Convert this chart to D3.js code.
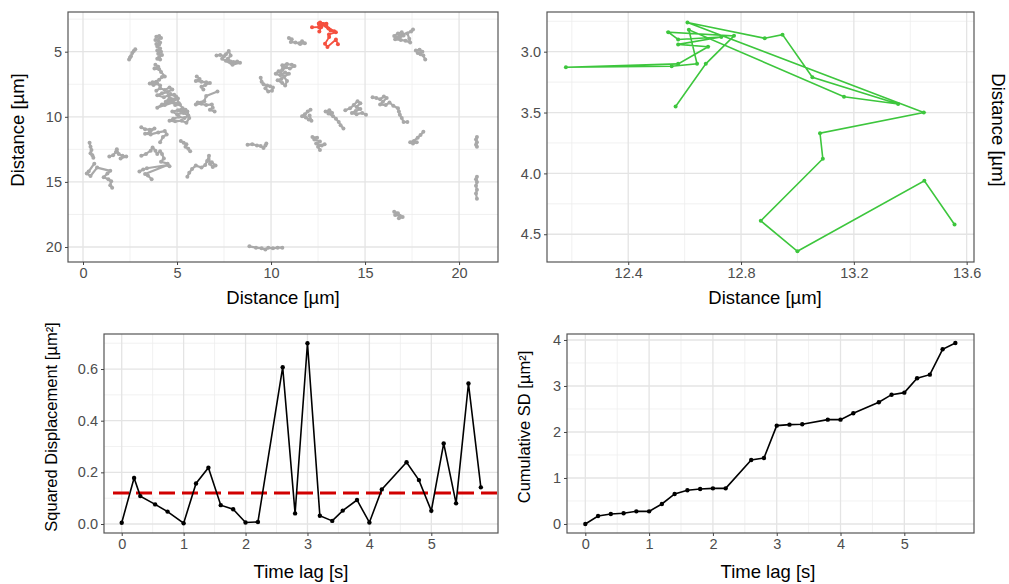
<!DOCTYPE html>
<html>
<head>
<meta charset="utf-8">
<script src="https://cdn.jsdelivr.net/npm/d3@7"></script>
<style>
body { margin: 0; background: #fff; }
text { font-family: "Liberation Sans", Arial, sans-serif; }
.tick text { fill: #4d4d4d; font-size: 14.5px; }
.tick line { stroke: #444; }
.domain { display: none; }
.border { fill: none; stroke: #555; stroke-width: 1.2; }
.gmajor { stroke: #e4e4e4; stroke-width: 1.3; }
.gminor { stroke: #eeeeee; stroke-width: 0.8; }
.title { fill: #000; font-size: 18.5px; }
.ytitle { fill: #000; font-size: 16.5px; }
</style>
</head>
<body>
<div id="chart"></div>
<script>
// grey tracks, one list of [x, y] per particle (µm)
var greyTracks = [
  [[2.45,5.6],[2.5,5.45],[2.55,5.35],[2.62,5.1],[2.7,4.95],[2.78,4.82]],
  [[3.9,3.85],[4.05,3.8],[4.15,3.95],[3.85,4.1],[4.0,4.15],[4.1,4.3],[3.9,4.4],[4.05,4.45],[3.95,4.6],[4.1,4.75],[3.95,4.9],[4.15,5.0],[4.0,5.15],[4.2,5.25],[4.05,5.4],[3.95,5.55],[4.1,5.6]],
  [[3.85,6.0],[4.0,6.15],[3.8,6.3],[4.05,6.35],[4.15,6.55],[4.35,6.9],[4.2,6.95],[4.05,7.15],[3.9,7.3],[3.7,7.35],[3.55,7.45],[3.75,7.55],[3.95,7.45],[4.1,7.6]],
  [[3.9,8.0],[4.1,7.8],[4.35,7.95],[4.6,7.75],[4.75,7.9],[4.5,8.1],[4.2,8.2],[3.95,8.35],[4.3,8.5],[4.55,8.35],[4.85,8.3],[5.05,8.6],[4.7,8.7],[4.4,8.85],[4.6,8.55],[4.9,8.65],[4.2,9.05],[3.95,9.3],[4.35,9.1],[4.8,8.9],[5.1,8.95],[4.95,8.45],[4.65,8.25]],
  [[4.9,9.1],[5.15,9.05],[5.3,9.35],[5.05,9.5],[4.75,9.6],[5.0,9.8],[5.35,9.7],[5.6,9.9],[5.4,10.1],[5.1,10.0],[4.8,10.15],[4.6,10.3],[4.9,10.35],[5.25,10.3],[5.5,10.45],[5.65,10.1],[5.55,9.6],[5.2,9.55],[5.45,9.45]],
  [[6.05,6.9],[6.2,7.1],[6.0,7.25],[6.3,7.3],[6.55,7.35],[6.75,7.4],[6.5,7.55],[6.3,7.7],[6.4,7.9]],
  [[7.15,8.05],[6.55,8.4],[6.45,8.8],[6.1,8.9],[6.0,9.05],[6.3,9.0],[6.55,9.1],[6.85,9.05],[6.9,9.3],[6.75,9.45],[7.0,9.6]],
  [[7.1,5.3],[7.3,5.25],[7.5,5.35],[7.6,5.2],[7.75,4.95],[7.85,5.3],[7.7,5.55],[7.85,5.75],[8.0,5.8],[8.2,5.75],[8.35,5.85],[7.95,6.0],[7.6,5.7],[7.4,5.55]],
  [[9.45,7.0],[9.5,7.3],[9.6,7.5],[9.8,7.6],[9.7,7.8],[9.85,8.05],[10.05,8.0],[10.1,7.75],[9.95,7.65]],
  [[10.6,6.05],[10.85,5.95],[11.1,6.0],[11.25,6.1],[11.0,6.3],[10.8,6.2],[10.6,6.4],[10.4,6.5],[10.25,6.7],[10.5,6.8],[10.75,6.6],[10.95,6.7],[10.7,6.9],[10.55,7.1],[10.35,7.2],[10.6,7.4],[10.75,7.6],[10.85,7.25],[10.5,6.55],[10.65,6.2]],
  [[10.95,3.95],[11.1,4.05],[11.05,4.25],[11.3,4.3],[11.5,4.35],[11.65,4.2],[11.8,4.35],[11.55,4.4]],
  [[16.55,3.8],[16.75,3.6],[16.95,3.5],[17.05,3.75],[16.8,3.95],[16.6,4.05],[16.9,4.1],[17.15,4.15],[17.4,4.3],[17.35,4.0],[17.25,3.6],[17.55,3.3],[17.45,3.45],[16.85,3.75],[16.65,3.9]],
  [[17.7,4.9],[17.9,4.85],[18.05,5.0],[17.8,5.1],[17.95,5.2],[18.1,5.3],[18.2,5.6]],
  [[12.1,9.45],[11.95,9.6],[11.8,9.8],[11.65,9.95],[11.85,10.05],[12.0,10.2],[12.15,10.3],[12.05,9.9]],
  [[12.9,9.6],[13.1,9.5],[13.25,9.7],[13.05,9.75],[13.3,9.95],[13.45,10.15],[13.6,10.4],[13.7,10.65],[13.85,10.9]],
  [[13.95,9.5],[14.2,9.35],[14.4,9.1],[14.6,8.8],[14.75,8.95],[14.55,9.25],[14.75,9.4],[14.5,9.55],[14.3,9.7],[14.55,9.8],[14.85,9.7],[15.05,9.85]],
  [[15.4,8.5],[15.6,8.55],[15.8,8.65],[16.0,8.45],[16.15,8.55],[15.95,8.85],[15.8,9.05],[16.1,9.1],[16.3,8.9],[16.5,9.15],[16.75,9.35],[16.8,9.6],[16.85,9.85],[16.95,10.1],[17.05,10.4],[17.25,10.4]],
  [[18.1,11.15],[17.95,11.4],[17.8,11.6],[17.6,11.85],[17.4,11.95],[17.55,12.05],[17.75,11.95]],
  [[20.95,11.55],[20.9,11.75],[20.95,11.95],[20.9,12.15],[20.95,12.3]],
  [[20.95,14.6],[20.9,14.8],[20.95,15.0],[20.9,15.3],[20.95,15.6],[20.9,15.9],[20.95,16.3]],
  [[16.55,17.3],[16.75,17.4],[16.6,17.55],[16.85,17.6],[17.0,17.7],[16.8,17.8]],
  [[8.85,19.95],[9.2,20.05],[9.5,20.1],[9.7,20.2],[9.85,20.05],[10.1,20.1],[10.35,20.05],[10.6,20.05]],
  [[8.75,12.15],[9.0,12.1],[9.25,12.2],[9.45,12.25],[9.6,12.4],[9.7,12.2],[9.75,12.05]],
  [[12.2,11.55],[12.45,11.6],[12.3,11.75],[12.6,11.9],[12.4,12.05],[12.7,12.2],[12.85,12.1],[12.5,12.3],[12.6,12.55]],
  [[0.35,12.0],[0.4,12.3],[0.45,12.55],[0.4,12.8],[0.5,12.95],[0.55,13.15]],
  [[0.6,13.6],[0.3,14.2],[0.2,14.35],[0.4,14.55],[0.75,13.9],[1.45,14.15],[1.3,14.35],[1.1,14.65],[1.35,14.8],[1.5,14.95],[1.45,15.25],[1.55,15.45]],
  [[1.4,13.05],[1.6,12.95],[1.75,12.7],[1.8,12.5],[1.9,12.85],[2.1,13.0],[2.3,13.05],[2.0,13.2]],
  [[3.1,10.8],[3.3,10.95],[3.55,11.0],[3.8,10.9],[3.55,11.2],[3.3,11.3],[3.6,11.35],[4.0,11.2],[4.35,11.1],[4.45,11.35],[4.25,11.55],[4.1,11.95]],
  [[3.1,13.0],[3.35,12.85],[3.6,12.6],[3.7,12.35],[3.85,12.6],[3.95,12.85],[4.1,12.65],[4.2,12.85],[4.3,13.2],[4.15,13.45],[4.5,13.6],[4.6,13.8]],
  [[3.0,14.2],[3.2,14.05],[3.4,13.95],[4.5,13.7],[3.3,14.4],[3.45,14.5],[3.65,14.8]],
  [[5.2,11.85],[5.35,12.0],[5.5,12.1],[5.45,12.3],[5.6,12.45],[5.7,12.65]],
  [[5.55,14.6],[5.65,14.3],[5.8,14.0],[6.0,13.75],[6.3,13.9],[6.5,13.7],[6.6,13.4],[6.7,13.0],[6.75,13.6],[6.9,13.85],[7.05,13.75],[6.85,13.5]]
];

// the highlighted track (red on the map, green in the zoom)
var trackX = [12.568, 12.675, 12.775, 12.542, 12.577, 12.73, 12.577, 12.683, 12.577, 12.179, 12.554, 12.644, 12.615,
              13.165, 13.357, 13.053, 12.947, 12.884, 12.610, 13.448, 13.08, 13.09, 12.87, 13.00, 13.45, 13.557];
var trackY = [3.45, 3.10, 2.87, 2.84, 2.90, 2.88, 2.94, 2.96, 3.10, 3.128, 3.12, 3.10, 2.82,
              3.37, 3.43, 3.21, 2.86, 2.89, 2.76, 3.50, 3.67, 3.88, 4.39, 4.64, 4.06, 4.42];

// squared displacement per time lag
var lagTime = [0, 0.2, 0.3, 0.54, 0.74, 1.0, 1.2, 1.4, 1.6, 1.8, 2.0, 2.2, 2.6, 2.8, 3.0, 3.2, 3.4, 3.57, 3.8, 4.0, 4.2, 4.6, 4.8, 5.0, 5.2, 5.4, 5.6, 5.8];
var sqDisp  = [0.005, 0.178, 0.108, 0.076, 0.048, 0.003, 0.157, 0.218, 0.073, 0.057, 0.006, 0.008, 0.607, 0.041, 0.70, 0.032, 0.012, 0.052, 0.093, 0.006, 0.134, 0.239, 0.170, 0.051, 0.312, 0.080, 0.544, 0.142];
var meanSqDisp = 0.12;

// cumulative squared displacement
var cumTime = [0, 0.2, 0.4, 0.6, 0.8, 1.0, 1.2, 1.4, 1.6, 1.8, 2.0, 2.2, 2.6, 2.8, 3.0, 3.2, 3.4, 3.8, 4.0, 4.2, 4.6, 4.8, 5.0, 5.2, 5.4, 5.6, 5.8];
var cumSD   = [0, 0.174, 0.217, 0.232, 0.275, 0.275, 0.435, 0.652, 0.732, 0.761, 0.775, 0.775, 1.391, 1.435, 2.138, 2.159, 2.167, 2.268, 2.268, 2.406, 2.645, 2.811, 2.855, 3.167, 3.246, 3.797, 3.935];

// tick values
var mapXTicks = [0, 5, 10, 15, 20];
var mapYTicks = [5, 10, 15, 20];
var zoomXTicks = [12.4, 12.8, 13.2, 13.6];
var zoomYTicks = [3.0, 3.5, 4.0, 4.5];
var lagTicks = [0, 1, 2, 3, 4, 5];
var sdTicks = [0, 0.2, 0.4, 0.6];
var cumTicks = [0, 1, 2, 3, 4];

var svg = d3.select("#chart").append("svg")
    .attr("width", 1009)
    .attr("height", 584);

// minor grid values half way between the major ticks
function minors(ticks, dom) {
  var step = ticks[1] - ticks[0], out = [];
  for (var k = -20; k < 40; k++) {
    var v = ticks[0] + step * (k + 0.5);
    if (v > dom[0] && v < dom[1]) out.push(v);
  }
  return out;
}

// one ggplot-like panel: grid, then marks are added by the caller, border and axes
function makePanel(p) {
  var x = d3.scaleLinear().domain(p.xDomain).range([p.left, p.left + p.width]);
  var y = d3.scaleLinear().domain(p.yDomain)
      .range(p.flipY ? [p.top, p.top + p.height] : [p.top + p.height, p.top]);
  var g = svg.append("g");

  g.append("rect")
      .attr("x", p.left).attr("y", p.top)
      .attr("width", p.width).attr("height", p.height)
      .attr("fill", "#fff");

  g.selectAll(".vmin").data(minors(p.xTicks, p.xDomain)).enter().append("line")
      .attr("class", "gminor")
      .attr("x1", function(d) { return x(d); }).attr("x2", function(d) { return x(d); })
      .attr("y1", p.top).attr("y2", p.top + p.height);
  g.selectAll(".hmin").data(minors(p.yTicks, p.yDomain)).enter().append("line")
      .attr("class", "gminor")
      .attr("y1", function(d) { return y(d); }).attr("y2", function(d) { return y(d); })
      .attr("x1", p.left).attr("x2", p.left + p.width);
  g.selectAll(".vmaj").data(p.xTicks).enter().append("line")
      .attr("class", "gmajor")
      .attr("x1", function(d) { return x(d); }).attr("x2", function(d) { return x(d); })
      .attr("y1", p.top).attr("y2", p.top + p.height);
  g.selectAll(".hmaj").data(p.yTicks).enter().append("line")
      .attr("class", "gmajor")
      .attr("y1", function(d) { return y(d); }).attr("y2", function(d) { return y(d); })
      .attr("x1", p.left).attr("x2", p.left + p.width);

  var marks = g.append("g");

  g.append("rect")
      .attr("class", "border")
      .attr("x", p.left).attr("y", p.top)
      .attr("width", p.width).attr("height", p.height);

  g.append("g")
      .attr("transform", "translate(0," + (p.top + p.height) + ")")
      .call(d3.axisBottom(x).tickValues(p.xTicks).tickFormat(d3.format(p.xFormat)).tickSize(3).tickPadding(3));
  g.append("g")
      .attr("transform", "translate(" + p.left + ",0)")
      .call(d3.axisLeft(y).tickValues(p.yTicks).tickFormat(d3.format(p.yFormat)).tickSize(3).tickPadding(3));

  return {g: marks, x: x, y: y};
}

// --- top left: all tracks
var map = makePanel({left: 68, top: 12, width: 430, height: 250,
  xDomain: [-0.798, 22.07], yDomain: [1.951, 21.152], flipY: true,
  xTicks: mapXTicks, yTicks: mapYTicks, xFormat: "d", yFormat: "d"});

var mapLine = d3.line()
    .x(function(d) { return map.x(d[0]); })
    .y(function(d) { return map.y(d[1]); });

greyTracks.forEach(function(tr) {
  map.g.append("path")
      .attr("d", mapLine(tr))
      .attr("fill", "none")
      .attr("stroke", "#a9a9a9")
      .attr("stroke-width", 2.2)
      .attr("stroke-linejoin", "round");
  map.g.selectAll(null).data(tr).enter().append("circle")
      .attr("cx", function(d) { return map.x(d[0]); })
      .attr("cy", function(d) { return map.y(d[1]); })
      .attr("r", 2)
      .attr("fill", "#a9a9a9");
});

var track = trackX.map(function(v, i) { return [v, trackY[i]]; });

map.g.append("path")
    .attr("d", mapLine(track))
    .attr("fill", "none")
    .attr("stroke", "#f5503f")
    .attr("stroke-width", 1.8);
map.g.selectAll(null).data(track).enter().append("circle")
    .attr("cx", function(d) { return map.x(d[0]); })
    .attr("cy", function(d) { return map.y(d[1]); })
    .attr("r", 2)
    .attr("fill", "#f5503f");

// --- top right: zoom on the red track
var zoom = makePanel({left: 547, top: 12, width: 427, height: 250,
  xDomain: [12.112, 13.626], yDomain: [2.674, 4.728], flipY: true,
  xTicks: zoomXTicks, yTicks: zoomYTicks, xFormat: ".1f", yFormat: ".1f"});

var zoomLine = d3.line()
    .x(function(d) { return zoom.x(d[0]); })
    .y(function(d) { return zoom.y(d[1]); });

zoom.g.append("path")
    .attr("d", zoomLine(track))
    .attr("fill", "none")
    .attr("stroke", "#3dc63d")
    .attr("stroke-width", 1.6);
zoom.g.selectAll(null).data(track).enter().append("circle")
    .attr("cx", function(d) { return zoom.x(d[0]); })
    .attr("cy", function(d) { return zoom.y(d[1]); })
    .attr("r", 2)
    .attr("fill", "#3dc63d");

// --- bottom left: squared displacement
var sd = makePanel({left: 104, top: 334, width: 394, height: 199,
  xDomain: [-0.286, 6.077], yDomain: [-0.0348, 0.7356],
  xTicks: lagTicks, yTicks: sdTicks, xFormat: "d", yFormat: ".1f"});

var sdData = lagTime.map(function(t, i) { return [t, sqDisp[i]]; });

sd.g.append("line")
    .attr("x1", 113).attr("x2", sd.x.range()[1])
    .attr("y1", sd.y(meanSqDisp)).attr("y2", sd.y(meanSqDisp))
    .attr("stroke", "#d10000")
    .attr("stroke-width", 3)
    .attr("stroke-dasharray", "16,7");

sd.g.append("path")
    .attr("d", d3.line()
        .x(function(d) { return sd.x(d[0]); })
        .y(function(d) { return sd.y(d[1]); })(sdData))
    .attr("fill", "none")
    .attr("stroke", "#000")
    .attr("stroke-width", 1.6);
sd.g.selectAll(null).data(sdData).enter().append("circle")
    .attr("cx", function(d) { return sd.x(d[0]); })
    .attr("cy", function(d) { return sd.y(d[1]); })
    .attr("r", 2.2)
    .attr("fill", "#000");

// --- bottom right: cumulative squared displacement
var cum = makePanel({left: 567, top: 334, width: 407, height: 199,
  xDomain: [-0.287, 6.092], yDomain: [-0.196, 4.130],
  xTicks: lagTicks, yTicks: cumTicks, xFormat: "d", yFormat: "d"});

var cumData = cumTime.map(function(t, i) { return [t, cumSD[i]]; });

cum.g.append("path")
    .attr("d", d3.line()
        .x(function(d) { return cum.x(d[0]); })
        .y(function(d) { return cum.y(d[1]); })(cumData))
    .attr("fill", "none")
    .attr("stroke", "#000")
    .attr("stroke-width", 1.6);
cum.g.selectAll(null).data(cumData).enter().append("circle")
    .attr("cx", function(d) { return cum.x(d[0]); })
    .attr("cy", function(d) { return cum.y(d[1]); })
    .attr("r", 2.2)
    .attr("fill", "#000");

// axis titles
function title(txt, x, y, rot, cls) {
  svg.append("text")
      .attr("class", cls || "title")
      .attr("text-anchor", "middle")
      .attr("transform", "translate(" + x + "," + y + ")" + (rot ? " rotate(" + rot + ")" : ""))
      .text(txt);
}
title("Distance [µm]", 283, 304);
title("Distance [µm]", 765, 304);
title("Distance [µm]", 24, 130, -90);
title("Distance [µm]", 992, 130, 90);
title("Time lag [s]", 301, 578);
title("Time lag [s]", 768, 578);
title("Squared Displacement [µm²]", 57, 427, -90, "ytitle");
title("Cumulative SD [µm²]", 530, 427, -90, "ytitle");
</script>
</body>
</html>
